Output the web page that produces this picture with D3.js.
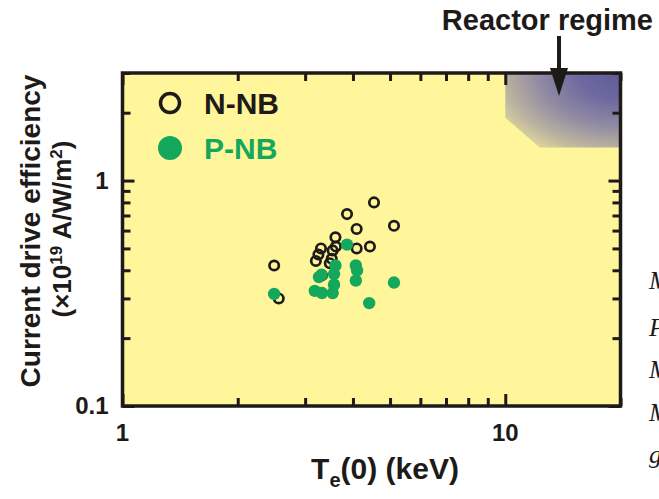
<!DOCTYPE html>
<html>
<head>
<meta charset="utf-8">
<script src="https://cdn.jsdelivr.net/npm/d3@7/dist/d3.min.js"></script>
<style>
  html, body { margin: 0; padding: 0; background: #ffffff; }
  svg { display: block; }
  text { font-family: "Liberation Sans", Arial, sans-serif; font-weight: bold; }
  text.side { font-family: "Liberation Serif", serif; font-style: italic; font-weight: normal; }
</style>
</head>
<body>
<svg id="chart" width="659" height="499"></svg>
<script>
// Negative-NB and positive-NB current drive efficiency vs central electron temperature
const nnbTe  = [4.54, 3.86, 4.09, 5.12, 3.60, 4.09, 4.43, 3.30, 3.25, 3.20, 3.54, 3.61, 3.52, 3.48, 3.32, 2.49, 2.56];
const nnbEta = [0.80, 0.71, 0.61, 0.63, 0.56, 0.50, 0.51, 0.50, 0.47, 0.44, 0.49, 0.51, 0.45, 0.43, 0.38, 0.42, 0.30];

const pnbTe  = [3.86, 4.07, 4.10, 4.07, 3.60, 3.57, 3.26, 3.31, 3.57, 3.54, 3.32, 3.18, 5.12, 4.41, 2.49];
const pnbEta = [0.52, 0.42, 0.40, 0.36, 0.42, 0.385, 0.373, 0.382, 0.345, 0.317, 0.317, 0.324, 0.353, 0.286, 0.314];

const xTickValues = [1, 10];
const xTickLabels = ["1", "10"];
const xMinorTicks = [2, 3, 4, 5, 6, 7, 8, 9, 20];
const yTickValues = [0.1, 1];
const yTickLabels = ["0.1", "1"];
const yMinorTicks = [0.2, 0.3, 0.4, 0.5, 0.6, 0.7, 0.8, 0.9, 2, 3];

// Reactor regime corner (Te >= 10 keV, efficiency above ~1.4)
const reactorTe  = [10, 20, 20, 12.3, 10];
const reactorEta = [3, 3, 1.4, 1.4, 1.9];

const svg = d3.select("#chart");
const margin = { left: 122.5, top: 73, right: 38.5, bottom: 93 };
const W = 659 - margin.left - margin.right;
const H = 499 - margin.top - margin.bottom;

const x = d3.scaleLog().domain([1, 20]).range([0, W]);
const y = d3.scaleLog().domain([0.1, 3]).range([H, 0]);

const ink = "#1e1a18";
const green = "#13a85b";

const defs = svg.append("defs");
const grad = defs.append("radialGradient")
  .attr("id", "reactorFill")
  .attr("cx", 1).attr("cy", 0).attr("r", 1.45).attr("fx", 1).attr("fy", 0);
[[0, "#5d5a99"], [0.25, "#6d69a0"], [0.5, "#928ca3"], [0.7, "#bbb39f"],
 [0.86, "#e3da9c"], [1, "#fff59a"]].forEach(([o, c]) =>
  grad.append("stop").attr("offset", o).attr("stop-color", c));

const g = svg.append("g").attr("transform", `translate(${margin.left},${margin.top})`);

g.append("rect").attr("width", W).attr("height", H).attr("fill", "#fff59a");

g.append("path")
  .datum(reactorTe.map((t, i) => [t, reactorEta[i]]))
  .attr("d", d3.line().x(d => x(d[0])).y(d => y(d[1])))
  .attr("fill", "url(#reactorFill)");

// data points
g.append("g").selectAll("circle")
  .data(nnbTe.map((t, i) => [t, nnbEta[i]]))
  .join("circle")
  .attr("cx", d => x(d[0])).attr("cy", d => y(d[1]))
  .attr("r", 4.7).attr("fill", "none").attr("stroke", ink).attr("stroke-width", 2.7);

g.append("g").selectAll("circle")
  .data(pnbTe.map((t, i) => [t, pnbEta[i]]))
  .join("circle")
  .attr("cx", d => x(d[0])).attr("cy", d => y(d[1]))
  .attr("r", 6.2).attr("fill", green);

// inward ticks on all four sides
function ticks(axisFn, scale, values, len, transform) {
  const a = g.append("g").attr("transform", transform)
    .call(axisFn(scale).tickValues(values).tickSize(-len).tickFormat(""));
  a.select(".domain").remove();
  a.selectAll(".tick line").attr("stroke", ink).attr("stroke-width", 3);
  return a;
}
ticks(d3.axisBottom, x, xTickValues, 12, `translate(0,${H})`);
ticks(d3.axisBottom, x, xMinorTicks, 8, `translate(0,${H})`);
ticks(d3.axisTop, x, xTickValues, 12, "translate(0,0)");
ticks(d3.axisTop, x, xMinorTicks, 8, "translate(0,0)");
ticks(d3.axisLeft, y, yTickValues, 12, "translate(0,0)");
ticks(d3.axisLeft, y, yMinorTicks, 8, "translate(0,0)");
ticks(d3.axisRight, y, yTickValues, 12, `translate(${W},0)`);
ticks(d3.axisRight, y, yMinorTicks, 8, `translate(${W},0)`);

g.append("rect").attr("width", W).attr("height", H)
  .attr("fill", "none").attr("stroke", ink).attr("stroke-width", 3.5);

// tick labels
g.append("g").selectAll("text").data(xTickValues).join("text")
  .attr("x", d => x(d)).attr("y", H + 35)
  .attr("text-anchor", "middle").attr("font-size", 24).attr("fill", ink)
  .text((d, i) => xTickLabels[i]);
g.append("g").selectAll("text").data(yTickValues).join("text")
  .attr("x", -14).attr("y", d => y(d) + 8)
  .attr("text-anchor", "end").attr("font-size", 24).attr("fill", ink)
  .text((d, i) => yTickLabels[i]);

// axis titles
const xt = svg.append("text").attr("x", 385).attr("y", 479)
  .attr("text-anchor", "middle").attr("font-size", 30).attr("fill", ink);
xt.append("tspan").text("T");
xt.append("tspan").attr("font-size", 20).attr("dy", 8).text("e");
xt.append("tspan").attr("dy", -8).text("(0) (keV)");

const yt = svg.append("g").attr("transform", "translate(40,231) rotate(-90)");
yt.append("text").attr("text-anchor", "middle").attr("font-size", 28).attr("fill", ink)
  .text("Current drive efficiency");
const yt2 = yt.append("text").attr("y", 31).attr("x", 2).attr("text-anchor", "middle")
  .attr("font-size", 26).attr("fill", ink);
yt2.append("tspan").text("(\u00d710");
yt2.append("tspan").attr("font-size", 17).attr("dy", -9).text("19");
yt2.append("tspan").attr("dy", 9).text(" A/W/m");
yt2.append("tspan").attr("font-size", 17).attr("dy", -9).text("2");
yt2.append("tspan").attr("dy", 9).text(")");

// legend
svg.append("circle").attr("cx", 170).attr("cy", 103).attr("r", 9.5)
  .attr("fill", "none").attr("stroke", ink).attr("stroke-width", 3.5);
svg.append("text").attr("x", 204).attr("y", 114).attr("font-size", 30).attr("fill", ink).text("N-NB");
svg.append("circle").attr("cx", 170).attr("cy", 148).attr("r", 12).attr("fill", green);
svg.append("text").attr("x", 204).attr("y", 159).attr("font-size", 30).attr("fill", green).text("P-NB");

// reactor regime callout
svg.append("text").attr("x", 653).attr("y", 30).attr("text-anchor", "end")
  .attr("font-size", 29).attr("fill", ink).text("Reactor regime");
svg.append("line").attr("x1", 559).attr("x2", 559).attr("y1", 36).attr("y2", 72)
  .attr("stroke", ink).attr("stroke-width", 4);
svg.append("path").attr("d", "M550,68 L568,68 L559,96 Z").attr("fill", ink);

// neighbouring page text at the right edge
const side = ["M", "P", "M", "M", "g"];
const sideY = [289, 336, 378, 421, 463];
svg.append("g").selectAll("text").data(side).join("text")
  .attr("class", "side")
  .attr("x", 649).attr("y", (d, i) => sideY[i])
  .attr("font-size", 26).attr("fill", ink)
  .text(d => d);
</script>
</body>
</html>
